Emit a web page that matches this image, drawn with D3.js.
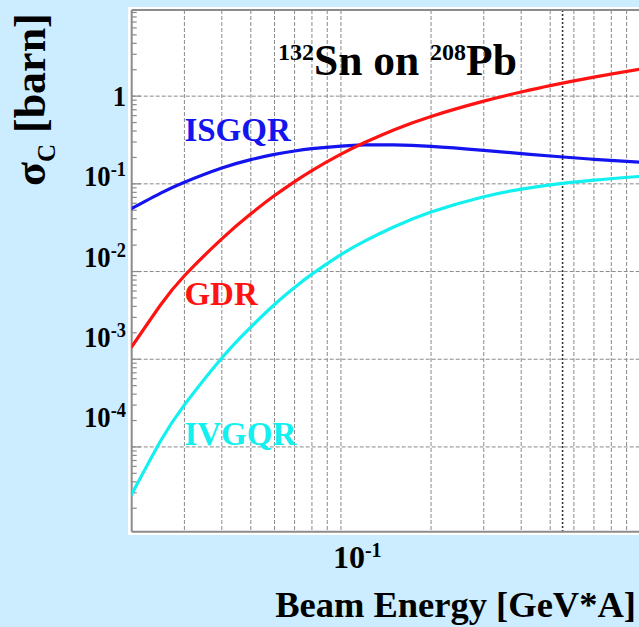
<!DOCTYPE html>
<html><head><meta charset="utf-8">
<script src="https://cdn.jsdelivr.net/npm/d3@7"></script>
<style>
html,body{margin:0;padding:0;background:#CCECFF;}
svg{display:block;}
text{font-family:"Liberation Serif","Times New Roman",serif;font-weight:bold;}
</style>
</head><body>
<svg id="chart" width="639" height="627"></svg>
<script>
// ---- data ----
const energies = [0.02,0.025,0.03,0.04,0.05,0.06,0.07,0.08,0.1,0.12,0.15,0.2,0.3,0.4,0.5,0.7,1.0];
const isgqr = [0.05237,0.07842,0.1044,0.1516,0.1891,0.2168,0.2371,0.2516,0.2695,0.2779,0.2779,0.2672,0.2409,0.2215,0.2076,0.1905,0.1760];
const gdr   = [0.001385,0.004180,0.008958,0.02358,0.04553,0.07353,0.1060,0.1419,0.2179,0.2960,0.4119,0.5871,0.8771,1.116,1.319,1.650,2.032];
const ivgqr = [2.893e-5,1.175e-4,3.017e-4,1.035e-3,2.329e-3,4.205e-3,6.572e-3,9.345e-3,0.01562,0.02224,0.03217,0.04775,0.07135,0.08715,0.09748,0.1100,0.1216];
const seriesNames = ["ISGQR","GDR","IVGQR"];
const seriesColors = ["#1414ee","#ff1212","#12f0f0"];
const labelAnchors = [[0.03,0.308],[0.03,0.00416],[0.03,1.054e-4]];
const yTickValues = [1,0.1,0.01,0.001,0.0001];
const yTickExps = ["","-1","-2","-3","-4"];
const xTickValues = [0.1];
const xTickExps = ["-1"];
const markerEnergy = 0.55;
const titleParts = [["132",true],["Sn on ",false],["208",true],["Pb",false]];
const xTitle = "Beam Energy [GeV*A]";

// ---- layout ----
const svg = d3.select("#chart");
const L = 131.7, R = 640.3, T = 10, B = 531.7;
const x = d3.scaleLog().domain([0.02, 1]).range([L, R]);
const y = d3.scaleLog().domain([1.08e-5, 9.6]).range([B, T]);
const yLabelPos = d3.scaleLog().domain([1, 1e-4]).range([106, 427]);

svg.append("rect").attr("width",639).attr("height",627).attr("fill","#CCECFF");
svg.append("rect").attr("x",128).attr("y",7).attr("width",520).attr("height",528).attr("fill","#ffffff");

const grid = svg.append("g").attr("stroke","#8a8a8a").attr("stroke-width",1).attr("stroke-dasharray","4,2").attr("fill","none");
x.ticks().filter(v => v > 0.0201).forEach(v => {
  grid.append("line").attr("x1",x(v)).attr("x2",x(v)).attr("y1",T).attr("y2",B);
});
yTickValues.forEach(v => {
  grid.append("line").attr("x1",L).attr("x2",R).attr("y1",y(v)).attr("y2",y(v));
});
svg.append("line").attr("x1",x(markerEnergy)).attr("x2",x(markerEnergy)).attr("y1",T).attr("y2",B)
  .attr("stroke","#333").attr("stroke-width",1.6).attr("stroke-dasharray","2,2");

// y minor/major ticks (inside)
const tk = svg.append("g").attr("stroke","#8a8a8a").attr("stroke-width",1.2);
y.ticks().forEach(v => {
  const m = Math.round(v / Math.pow(10, Math.floor(Math.log10(v)+1e-9)));
  const len = m === 1 ? 9 : 5;
  tk.append("line").attr("x1",L).attr("x2",L+len).attr("y1",y(v)).attr("y2",y(v));
});

// frame
const fr = svg.append("g").attr("stroke","#8c8c8c").attr("stroke-width",2).attr("fill","none");
fr.append("line").attr("x1",L).attr("x2",L).attr("y1",T).attr("y2",B);
fr.append("line").attr("x1",L).attr("x2",R).attr("y1",B).attr("y2",B);
fr.append("line").attr("x1",L).attr("x2",R).attr("y1",T).attr("y2",T);

// curves
svg.append("clipPath").attr("id","clip").append("rect").attr("x",L).attr("y",T).attr("width",R-L).attr("height",B-T);
const line = d3.line().x(d => x(d[0])).y(d => y(d[1])).curve(d3.curveNatural);
[isgqr, gdr, ivgqr].forEach((s, i) => {
  svg.append("path").attr("clip-path","url(#clip)")
    .attr("d", line(energies.map((e, j) => [e, s[j]])))
    .attr("fill","none").attr("stroke",seriesColors[i]).attr("stroke-width",3.2)
    .attr("stroke-linecap","round");
});

// curve labels
seriesNames.forEach((n, i) => {
  svg.append("text").attr("x", x(labelAnchors[i][0])).attr("y", y(labelAnchors[i][1]))
    .attr("font-size",33).attr("fill",seriesColors[i]).text(n);
});

// y tick labels
yTickValues.forEach((v, i) => {
  const g = svg.append("g").attr("transform",`translate(126,${yLabelPos(v)}) scale(0.92,1)`);
  const t = g.append("text").attr("text-anchor","end").attr("fill","#000").attr("font-size",29);
  if (yTickExps[i] === "") { t.text("1"); }
  else {
    t.append("tspan").text("10");
    t.append("tspan").attr("font-size",20).attr("dy",-10).text(yTickExps[i]);
  }
});

// x tick labels
xTickValues.forEach((v, i) => {
  const t = svg.append("text").attr("x", x(v) - 8).attr("y", 568).attr("font-size",32).attr("fill","#000");
  t.append("tspan").text("10");
  t.append("tspan").attr("font-size",20).attr("dy",-11).text(xTickExps[i]);
});

// title
const tt = svg.append("text").attr("x",278).attr("y",75).attr("fill","#000").attr("font-size",43.5);
let raised = false;
titleParts.forEach(([s, sup]) => {
  const sp = tt.append("tspan").text(s);
  if (sup && !raised) { sp.attr("font-size",24).attr("dy",-15); raised = true; }
  else if (!sup && raised) { sp.attr("dy",15); raised = false; }
});

// axis titles
svg.append("text").attr("x",636).attr("y",617).attr("text-anchor","end").attr("font-size",36.5).attr("fill","#000").text(xTitle);
const yt = svg.append("text").attr("transform","translate(45,186) rotate(-90)").attr("font-size",44).attr("fill","#000");
yt.append("tspan").text("σ");
yt.append("tspan").attr("font-size",25).attr("dy",10).text("C");
yt.append("tspan").attr("dy",-10).text(" [barn]");
</script>
</body></html>
